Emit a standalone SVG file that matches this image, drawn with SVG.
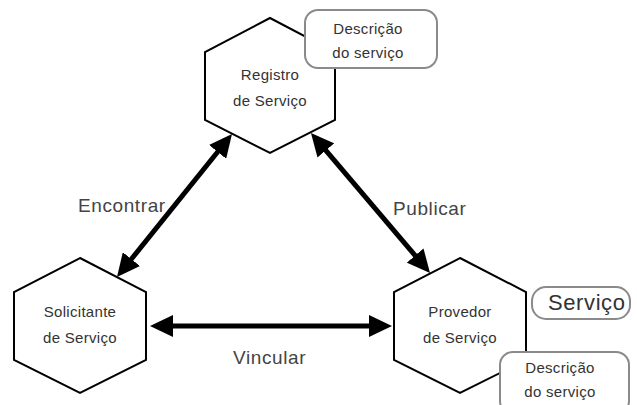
<svg xmlns="http://www.w3.org/2000/svg" width="637" height="405" viewBox="0 0 637 405">
  <defs>
    <marker id="head" markerUnits="userSpaceOnUse" markerWidth="24" markerHeight="22" viewBox="0 0 24 22" refX="8" refY="11" orient="auto-start-reverse">
      <path d="M0,0 L23,11 L0,22 z" fill="#000"/>
    </marker>
    <style>
      .hex { fill: #fff; stroke: #000; stroke-width: 2; stroke-linejoin: miter; }
      .box { fill: #fff; stroke: #8a8a8a; stroke-width: 2; }
      .node { font-family: "Liberation Sans", Arial, sans-serif; font-size: 15px; fill: #333; text-anchor: middle; letter-spacing: 0.3px; }
      .desc { font-family: "Liberation Sans", Arial, sans-serif; font-size: 15px; fill: #333; text-anchor: middle; letter-spacing: 0.3px; }
      .label { font-family: "Liberation Sans", Arial, sans-serif; font-size: 19px; fill: #444; letter-spacing: 0.6px; }
      .conn { stroke: #000; stroke-width: 5; fill: none; marker-start: url(#head); marker-end: url(#head); }
    </style>
  </defs>

  <rect width="637" height="405" fill="#fff"/>

  <!-- Service registry with its attached description -->
  <g id="registro">
    <polygon class="hex" points="270,18 335,52 335,120 270,153 205,120 205,52"/>
    <text class="node" x="270" y="80">Registro</text>
    <text class="node" x="270" y="106">de Serviço</text>
  </g>
  <g id="registro-descricao">
    <rect class="box" x="305" y="10" width="132" height="58" rx="13"/>
    <text class="desc" x="368" y="34">Descrição</text>
    <text class="desc" x="368" y="58">do serviço</text>
  </g>

  <!-- Service requester -->
  <g id="solicitante">
    <polygon class="hex" points="80,258 146,292 146,360 80,393 14,360 14,292"/>
    <text class="node" x="80" y="317">Solicitante</text>
    <text class="node" x="80" y="343">de Serviço</text>
  </g>

  <!-- Service provider with the service and its description -->
  <g id="provedor">
    <polygon class="hex" points="460,258 526,292 526,360 460,393 394,360 394,292"/>
    <text class="node" x="460" y="317">Provedor</text>
    <text class="node" x="460" y="343">de Serviço</text>
  </g>
  <g id="servico">
    <rect class="box" x="532" y="287" width="98" height="32" rx="14"/>
    <text x="548" y="310" font-family="'Liberation Sans', Arial, sans-serif" font-size="22" fill="#333" letter-spacing="0.6">Serviço</text>
  </g>
  <g id="provedor-descricao">
    <rect class="box" x="500" y="352" width="129" height="62" rx="13"/>
    <text class="desc" x="560" y="373">Descrição</text>
    <text class="desc" x="560" y="397">do serviço</text>
  </g>

  <!-- Connectors -->
  <g id="connectors">
    <line class="conn" x1="126.4" y1="265.3" x2="222.6" y2="145.7"/>
    <line class="conn" x1="320.7" y1="144.4" x2="420.3" y2="261.6"/>
    <line class="conn" x1="165" y1="326" x2="377" y2="326"/>
    <text class="label" x="78" y="212">Encontrar</text>
    <text class="label" x="393" y="215">Publicar</text>
    <text class="label" x="233" y="364">Vincular</text>
  </g>
</svg>
